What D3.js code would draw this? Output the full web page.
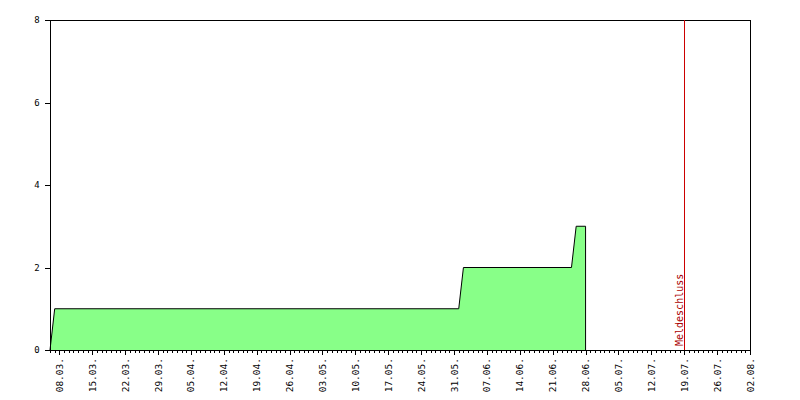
<!DOCTYPE html>
<html><head><meta charset="utf-8">
<script src="https://cdn.jsdelivr.net/npm/d3@7"></script>
<style>body{margin:0;background:#fff}svg{display:block}</style>
</head><body>
<script>
const YEAR = 2015;
const stepDates = ["06.03","07.03","01.06","02.06","25.06","26.06","28.06"];
const stepValues = [0,1,1,2,2,3,3];
const endDate = "28.06";
const xTickLabels = ["08.03.","15.03.","22.03.","29.03.","05.04.","12.04.","19.04.","26.04.","03.05.","10.05.","17.05.","24.05.","31.05.","07.06.","14.06.","21.06.","28.06.","05.07.","12.07.","19.07.","26.07.","02.08."];
const yTicks = [0,2,4,6,8];
const domainStart = "06.03", domainEnd = "02.08";
const deadlineDate = "19.07", deadlineLabel = "Meldeschluss";

const parse = s => { const [d,m] = s.split(".").filter(x=>x).map(Number); return new Date(Date.UTC(YEAR, m-1, d)); };
const W=800,H=400, L=50,R=750,T=20,B=350;
const svg = d3.select("body").append("svg").attr("width",W).attr("height",H);
const x = d3.scaleUtc().domain([parse(domainStart), parse(domainEnd)]).range([L,R]);
const y = d3.scaleLinear().domain([0,8]).range([B,T]);
const font = "'DejaVu Sans Mono', monospace";

const pts = stepDates.map((d,i)=>({d:parse(d), v:stepValues[i]}));
const area = d3.area().x(p=>x(p.d)).y0(y(0)).y1(p=>y(p.v));
svg.append("path").datum(pts).attr("d",area).attr("fill","#88ff88");
const linePts = pts.concat([{d:parse(endDate), v:0}]);
svg.append("path").datum(linePts).attr("d", d3.line().x(p=>x(p.d)).y(p=>y(p.v)))
  .attr("fill","none").attr("stroke","#000").attr("stroke-width",1);

// frame
svg.append("rect").attr("x",L+0.5).attr("y",T+0.5).attr("width",R-L).attr("height",B-T)
  .attr("fill","none").attr("stroke","#000").attr("shape-rendering","crispEdges");

// y axis ticks
const yg = svg.append("g").attr("shape-rendering","crispEdges");
yTicks.forEach(t=>{
  yg.append("line").attr("x1",L-5).attr("x2",L).attr("y1",Math.round(y(t))+0.5).attr("y2",Math.round(y(t))+0.5).attr("stroke","#000");
  svg.append("text").attr("x",37).attr("y",y(t)+3).attr("text-anchor","middle")
    .attr("font-family",font).attr("font-size",9).text(t);
});

// x axis minor/major ticks
const days = d3.utcDay.range(parse(domainStart), d3.utcDay.offset(parse(domainEnd),1));
const majorSet = new Set(xTickLabels.map(s=>+parse(s)));
const xg = svg.append("g").attr("shape-rendering","crispEdges");
days.forEach(d=>{
  const px = Math.round(x(d))+0.5;
  xg.append("line").attr("x1",px).attr("x2",px).attr("y1",B).attr("y2",B+(majorSet.has(+d)?5:3)).attr("stroke","#000");
});
xTickLabels.forEach(s=>{
  const px = x(parse(s));
  svg.append("text").attr("transform",`translate(${px+3.5},${358}) rotate(-90)`)
    .attr("text-anchor","end").attr("font-family",font).attr("font-size",9.5).text(s);
});

// deadline
const dx = Math.round(x(parse(deadlineDate)))+0.5;
svg.append("line").attr("x1",dx).attr("x2",dx).attr("y1",T).attr("y2",B).attr("stroke","#cc0000").attr("shape-rendering","crispEdges");
svg.append("text").attr("transform",`translate(${dx-2},${346}) rotate(-90)`)
  .attr("font-family",font).attr("font-size",10).attr("fill","#aa0000").text(deadlineLabel);
</script>
</body></html>
